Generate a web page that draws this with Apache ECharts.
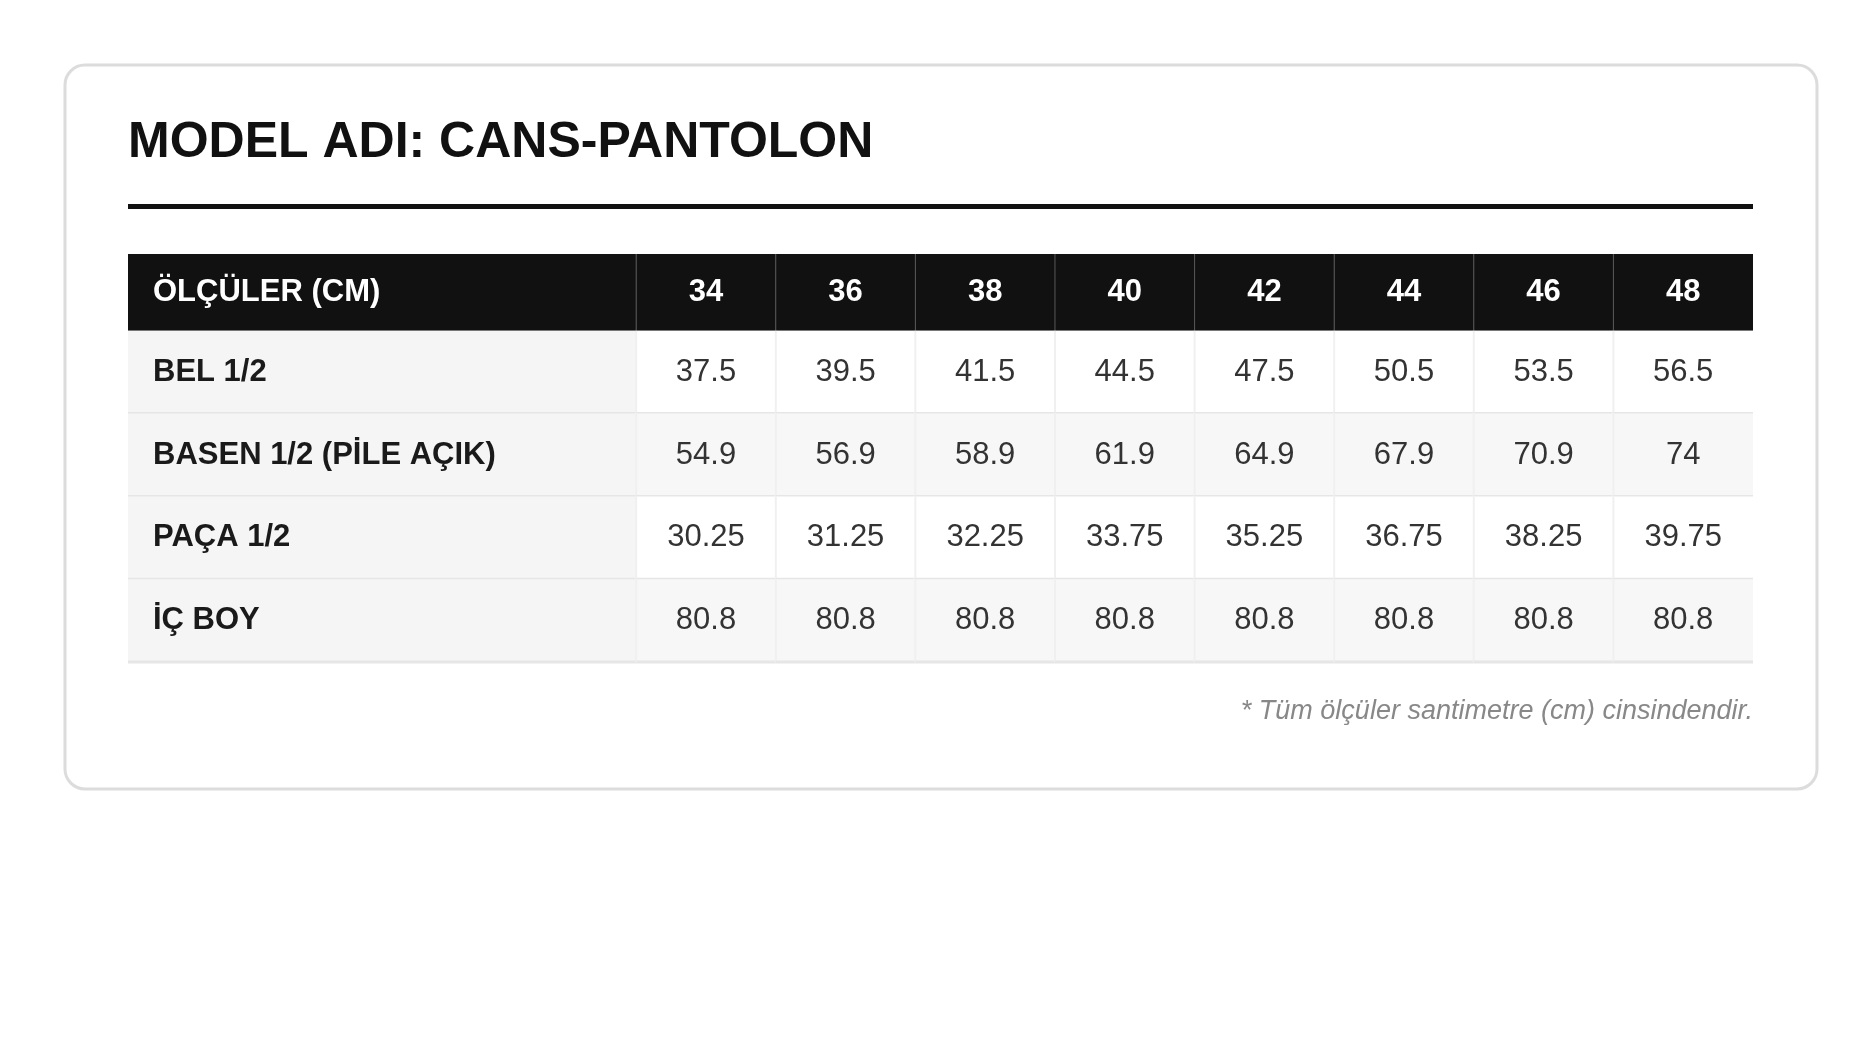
<!DOCTYPE html>
<html><head><meta charset="utf-8">
<script src="https://cdn.jsdelivr.net/npm/echarts@6/dist/echarts.min.js"></script>
<style>html,body{margin:0;background:#fff}#c{width:1875px;height:1063px}</style>
</head><body><div id="c"></div>
<script>
const title = 'MODEL ADI: CANS-PANTOLON';
const headerLabel = 'ÖLÇÜLER (CM)';
const sizes = ['34','36','38','40','42','44','46','48'];
const rowLabels = ['BEL 1/2','BASEN 1/2 (PİLE AÇIK)','PAÇA 1/2','İÇ BOY'];
const bel = ['37.5','39.5','41.5','44.5','47.5','50.5','53.5','56.5'];
const basen = ['54.9','56.9','58.9','61.9','64.9','67.9','70.9','74'];
const paca = ['30.25','31.25','32.25','33.75','35.25','36.75','38.25','39.75'];
const icBoy = ['80.8','80.8','80.8','80.8','80.8','80.8','80.8','80.8'];
const footnote = '* Tüm ölçüler santimetre (cm) cinsindendir.';

const rows = [bel, basen, paca, icBoy];
const LABW = 3.64, HEADH = 77, ROWH = 83;
const data = [];
// header
data.push([0, 0, headerLabel, 'h', 1]);
sizes.forEach((s,i)=>data.push([i+1, 0, s, 'h', 0]));
rows.forEach((r,ri)=>{
  data.push([0, ri+1, rowLabels[ri], 'l', 1]);
  r.forEach((v,i)=>data.push([i+1, ri+1, v, 'v', 0]));
});
function colX(c){return c===0?[0,LABW]:[LABW+c-1, LABW+c];}
function rowY(r){return r===0?[0,HEADH]:[HEADH+(r-1)*ROWH, HEADH+r*ROWH];}

const chart = echarts.init(document.getElementById('c'));
chart.setOption({
  animation:false,
  grid:{left:128,right:122,top:254,height:408},
  xAxis:{type:'value',min:0,max:LABW+8,show:false},
  yAxis:{type:'value',min:0,max:HEADH+4*ROWH,inverse:true,show:false},
  graphic:[
    {type:'rect',shape:{x:65,y:65,width:1752,height:724,r:20},style:{fill:'#fff',stroke:'#dcdcdc',lineWidth:3},z:-10},
    {type:'text',left:128,top:118,style:{text:title,font:'bold 50px "Liberation Sans", Arial, sans-serif',fill:'#111'}},
    {type:'rect',shape:{x:128,y:204,width:1625,height:5},style:{fill:'#111'}},
    {type:'text',right:122,top:698,style:{text:footnote,font:'italic 27px "Liberation Sans", Arial, sans-serif',fill:'#888'}}
  ],
  series:[{
    type:'custom',
    data:data,
    renderItem:function(params,api){
      const c=api.value(0), r=api.value(1), d=data[params.dataIndex];
      const [x0,x1]=colX(c), [y0,y1]=rowY(r);
      const p0=api.coord([x0,y0]), p1=api.coord([x1,y1]);
      const kind=d[3];
      let fill = kind==='h' ? '#111' : (kind==='l' ? '#f5f5f5' : (r%2===0 ? '#f7f7f7' : '#ffffff'));
      const children=[{type:'rect',shape:{x:p0[0],y:p0[1],width:p1[0]-p0[0],height:p1[1]-p0[1]},style:{fill:fill}}];
      if(kind==='h' && c>0) children.push({type:'line',shape:{x1:p0[0],y1:p0[1],x2:p0[0],y2:p1[1]},style:{stroke:'#555',lineWidth:1}});
      if(kind!=='h' && c>0) children.push({type:'line',shape:{x1:p0[0],y1:p0[1],x2:p0[0],y2:p1[1]},style:{stroke:'#f0f0f0',lineWidth:2}});
      if(kind!=='h') children.push({type:'line',shape:{x1:p0[0],y1:p1[1],x2:p1[0],y2:p1[1]},style:{stroke:'#e6e6e6',lineWidth:3}});
      const left = d[4]===1;
      children.push({type:'text',style:{
        text:d[2], x:left? p0[0]+25 : (p0[0]+p1[0])/2, y:(p0[1]+p1[1])/2,
        align:left?'left':'center', verticalAlign:'middle',
        font:(kind==='v'?'':'bold ')+'31px "Liberation Sans", Arial, sans-serif',
        fill: kind==='h' ? '#fff' : (kind==='l' ? '#1a1a1a' : '#333')
      }});
      return {type:'group',children:children};
    }
  }]
});
</script></body></html>
